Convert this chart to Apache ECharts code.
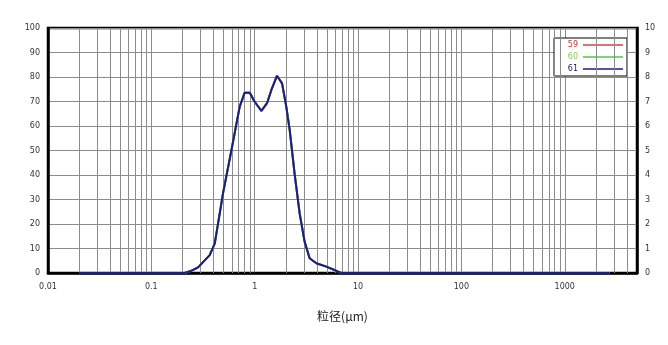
<!DOCTYPE html>
<html>
<head>
<meta charset="utf-8">
<script src="https://cdn.jsdelivr.net/npm/echarts@6/dist/echarts.min.js"></script>
<style>
  html, body { margin: 0; padding: 0; background: #fff; }
  #box { width: 668px; height: 345px; }
</style>
</head>
<body>
<div id="box"></div>
<script>
// 粒径 (μm) 和 对应数值
const sizes = [0.02, 0.1, 0.21, 0.24, 0.283, 0.367, 0.411, 0.494, 0.596, 0.641, 0.716, 0.80, 0.895, 1.0, 1.16, 1.316, 1.45, 1.64, 1.84, 2.02, 2.18, 2.43, 2.72, 3.04, 3.40, 3.95, 4.93, 6.15, 6.9, 10, 100, 1000, 2700]
const values = [0, 0, 0, 0.8, 2.3, 7.3, 12.1, 32.6, 50.2, 57.3, 67.9, 73.6, 73.6, 69.9, 66.2, 69.3, 74.7, 80.5, 77.4, 67.9, 58.4, 40.7, 24.4, 12.8, 6.0, 4.0, 2.6, 0.9, 0, 0, 0, 0, 0]
const seriesNames = ['59', '60', '61']
const seriesColors = ['#d94040', '#4cc84c', '#1c1c86']
const legendTextColors = ['#c03838', '#88d050', '#202070']
const leftTicks = [0, 10, 20, 30, 40, 50, 60, 70, 80, 90, 100]
const rightTicks = [0, 1, 2, 3, 4, 5, 6, 7, 8, 9, 10]

// 对数坐标的次网格线 2~9
const minorLines = []
for (let e = -2; e <= 3; e++) {
  for (let m = 2; m <= 9; m++) {
    const v = +(m * Math.pow(10, e)).toPrecision(6)
    if (v < 5000) minorLines.push(v)
  }
}

const points = sizes.map((s, i) => [s, values[i]])
const chart = echarts.init(document.getElementById('box'))

const labelFont = { fontFamily: 'DejaVu Sans', fontSize: 8, color: '#333' }

const series = seriesNames.map((name, i) => ({
  name: name,
  type: 'line',
  data: points,
  symbol: 'none',
  lineStyle: { color: seriesColors[i], width: 2 },
  itemStyle: { color: seriesColors[i] },
  z: 3 + i
}))
series.push({
  type: 'line',
  data: [],
  silent: true,
  z: 1,
  markLine: {
    silent: true,
    symbol: 'none',
    label: { show: false },
    lineStyle: { color: '#8c8c8c', type: 'solid', width: 1 },
    data: minorLines.map(v => ({ xAxis: v }))
  }
})

chart.setOption({
  animation: false,
  grid: {
    left: 48,
    right: 31,
    top: 28,
    bottom: 72,
    show: true,
    borderColor: '#000',
    borderWidth: 2.5
  },
  legend: {
    right: 41,
    top: 38,
    orient: 'vertical',
    align: 'right',
    icon: 'rect',
    itemWidth: 40,
    itemHeight: 1.5,
    itemGap: 2,
    padding: [2, 4],
    borderColor: '#000',
    borderWidth: 1,
    backgroundColor: '#fff',
    data: seriesNames.map((n, i) => ({
      name: n,
      textStyle: { color: legendTextColors[i] }
    })),
    textStyle: { fontFamily: 'DejaVu Sans', fontSize: 8, width: 20, lineHeight: 10 }
  },
  xAxis: {
    type: 'log',
    logBase: 10,
    min: 0.01,
    max: 5000,
    name: '粒径(μm)',
    nameLocation: 'middle',
    nameGap: 37,
    nameTextStyle: { fontFamily: 'Noto Sans CJK SC', fontSize: 12, color: '#222' },
    axisLine: { lineStyle: { color: '#000', width: 2.5 } },
    axisTick: { show: false },
    axisLabel: {
      ...labelFont,
      margin: 10,
      showMaxLabel: false,
      formatter: v => String(+v.toPrecision(6))
    },
    splitLine: { show: true, lineStyle: { color: '#8c8c8c', width: 1 } }
  },
  yAxis: [
    {
      type: 'value',
      min: leftTicks[0],
      max: leftTicks[leftTicks.length - 1],
      interval: 10,
      axisLine: { show: true, lineStyle: { color: '#000', width: 2.5 } },
      axisTick: { show: false },
      axisLabel: { ...labelFont, margin: 8 },
      splitLine: { show: true, lineStyle: { color: '#8c8c8c', width: 1 } }
    },
    {
      type: 'value',
      position: 'right',
      min: rightTicks[0],
      max: rightTicks[rightTicks.length - 1],
      interval: 1,
      axisLine: { show: true, lineStyle: { color: '#000', width: 2.5 } },
      axisTick: { show: false },
      axisLabel: { ...labelFont, margin: 8 },
      splitLine: { show: false }
    }
  ],
  series: series
})
</script>
</body>
</html>
